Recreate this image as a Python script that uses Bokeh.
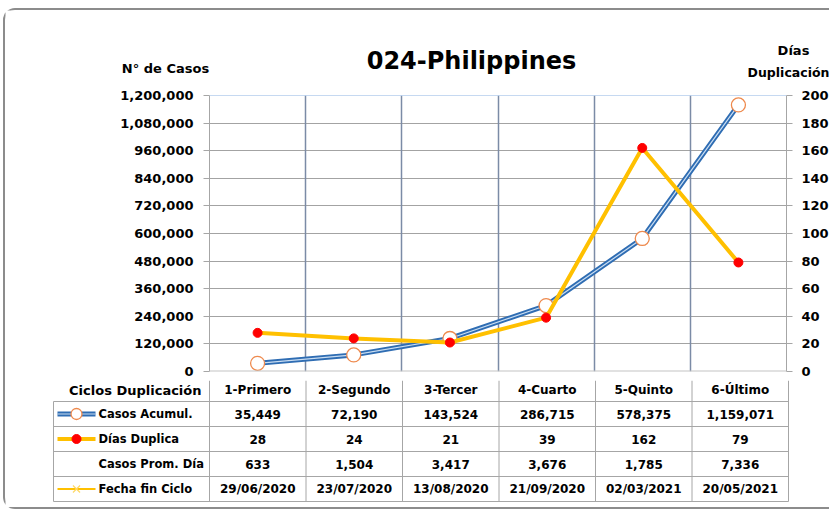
from bokeh.plotting import figure
from bokeh.models import (Range1d, LinearAxis, FixedTicker, NumeralTickFormatter,
                          Span, Grid)
from bokeh.core.properties import value
from bokeh.embed import file_html
from bokeh.resources import INLINE

# ---------------- data ----------------
title_text = "024-Philippines"
categories = ["1-Primero", "2-Segundo", "3-Tercer", "4-Cuarto", "5-Quinto", "6-Último"]
casos_acumul = [35449, 72190, 143524, 286715, 578375, 1159071]
dias_duplica = [28, 24, 21, 39, 162, 79]
casos_prom_dia = [633, 1504, 3417, 3676, 1785, 7336]
fecha_fin = ["29/06/2020", "23/07/2020", "13/08/2020", "21/09/2020", "02/03/2021", "20/05/2021"]
left_ticks = [0, 120000, 240000, 360000, 480000, 600000, 720000, 840000, 960000, 1080000, 1200000]
right_ticks = [0, 20, 40, 60, 80, 100, 120, 140, 160, 180, 200]
row_labels = ["Casos Acumul.", "Días Duplica", "Casos Prom. Día", "Fecha fin Ciclo"]
table_header = "Ciclos Duplicación"
left_title = "N° de Casos"
right_title = ["Días", "Duplicación"]

FONT = "DejaVu Sans"
BLUE = "#2F6DB3"
BLUE_IN = "#C9DDF2"
ORANGE = "#EE8A4E"
GOLD = "#FFC000"
RED = "#FF0000"
BORDER = "2px solid #8C8C8C"

# ---------------- layout constants (page px) ----------------
OX, OY = 5, 10                  # content origin on page (inside the rounded border)
W = 826
FL, FR, FT, FB = 209, 788, 97, 373
HY1 = 90                        # header bottom
CY1 = 382                       # chart bottom / table top
TY1 = 511                       # table bottom
ROW0 = 403                      # first data-row top
RH = 25                         # data-row height
n = len(categories)
unit = (FR - FL) / n
ymax = left_ticks[-1]


def ux(px):
    return (px - FL) / unit


common = dict(output_backend="svg", toolbar_location=None)

# ---------------- header (titles) ----------------
h = figure(width=W, height=HY1 - OY, x_range=Range1d(OX, OX + W), y_range=Range1d(HY1, OY),
           x_axis_type=None, y_axis_type=None, min_border=0, **common,
           styles={"margin-top": "8px", "margin-left": "3px", "border-top": BORDER,
                   "border-left": BORDER, "border-top-left-radius": "12px"})
h.outline_line_color = None
h.grid.visible = False
htxt = dict(text_font=value(FONT), text_font_style="bold", text_baseline="middle",
            text_align="center", text_color="black")
h.text(x=[471], y=[60], text=[title_text], text_font_size="24px", **htxt)
h.text(x=[165], y=[68], text=[left_title], text_font_size="13px", **htxt)
h.text(x=[793], y=[50], text=[right_title[0]], text_font_size="13px", **htxt)
h.text(x=[788], y=[72], text=[right_title[1]], text_font_size="12.5px", **htxt)

# ---------------- chart ----------------
p = figure(width=W, height=CY1 - HY1, x_range=Range1d(0, n), y_range=Range1d(0, ymax),
           x_axis_type=None, **common,
           min_border_left=FL - OX, min_border_right=OX + W - FR,
           min_border_top=FT - HY1, min_border_bottom=CY1 - FB,
           styles={"margin-left": "3px", "border-left": BORDER})
p.outline_line_color = None

xc = [i + 0.5 for i in range(n)]

yax = p.yaxis[0]
yax.ticker = FixedTicker(ticks=left_ticks)
yax.formatter = NumeralTickFormatter(format="0,0")
p.extra_y_ranges = {"dias": Range1d(0, right_ticks[-1])}
rax = LinearAxis(y_range_name="dias", ticker=FixedTicker(ticks=right_ticks))
p.add_layout(rax, "right")
for ax, st in ((yax, 10), (rax, 9)):
    ax.major_label_text_font = FONT
    ax.major_label_text_font_style = "bold"
    ax.major_label_text_font_size = "13px"
    ax.major_label_text_color = "black"
    ax.major_label_standoff = st
    ax.axis_line_color = "#A6A6A6"
    ax.major_tick_line_color = "#A6A6A6"
    ax.major_tick_out = 6
    ax.major_tick_in = 0
    ax.minor_tick_line_color = None

p.ygrid.ticker = FixedTicker(ticks=left_ticks)
p.ygrid.grid_line_color = "#A3A3A3"
p.xgrid.visible = False
p.add_layout(Grid(dimension=0, ticker=FixedTicker(ticks=list(range(1, n))),
                  grid_line_color="#7B8BA6", grid_line_width=1.5))
p.add_layout(Span(location=ymax, dimension="width", line_color="#8EB4E3", line_width=1))
p.add_layout(Span(location=0, dimension="width", line_color="#C4C4C4", line_width=2))

# Casos acumulados (double blue line)
p.line(xc, casos_acumul, line_width=5, line_color=BLUE)
p.line(xc, casos_acumul, line_width=1.2, line_color=BLUE_IN)
p.scatter(xc, casos_acumul, size=14, fill_color="white", line_color=ORANGE, line_width=1.3)
# Días duplicación
p.line(xc, dias_duplica, y_range_name="dias", line_width=4, line_color=GOLD)
p.scatter(xc, dias_duplica, y_range_name="dias", size=9, fill_color=RED, line_color=RED)

# ---------------- data table ----------------
t = figure(width=W, height=TY1 - CY1, x_range=Range1d(ux(OX), ux(OX + W)), y_range=Range1d(TY1, CY1),
           x_axis_type=None, y_axis_type=None, min_border=0, **common,
           styles={"margin-left": "3px", "border-left": BORDER, "border-bottom": BORDER,
                   "border-bottom-left-radius": "12px"})
t.outline_line_color = None
t.grid.visible = False
nrows = len(row_labels)
GRID = "#A6A6A6"
xl = ux(53)
ybot = ROW0 + nrows * RH
hy = [ROW0 + k * RH for k in range(nrows + 1)]
t.segment(x0=[xl] * len(hy), y0=hy, x1=[n] * len(hy), y1=hy, line_color=GRID, line_width=1)
vx = list(range(n + 1))
t.segment(x0=vx, y0=[CY1] * len(vx), x1=vx, y1=[ybot] * len(vx), line_color=GRID, line_width=1)
t.segment(x0=[xl], y0=[ROW0], x1=[xl], y1=[ybot], line_color=GRID, line_width=1)

ycat = (CY1 + ROW0) / 2 - 1
yrow = [ROW0 + (k + 0.5) * RH for k in range(nrows)]
txt = dict(text_font=value(FONT), text_font_style="bold", text_baseline="middle", text_color="black")
t.text(x=xc, y=[ycat] * n, text=categories, text_align="center", text_font_size="12px", **txt)
t.text(x=[ux(201)], y=[ycat], text=[table_header], text_align="right", text_font_size="13px", **txt)
rows = [[f"{v:,}" for v in casos_acumul], [f"{v:,}" for v in dias_duplica],
        [f"{v:,}" for v in casos_prom_dia], fecha_fin]
for k, r in enumerate(rows):
    t.text(x=xc, y=[yrow[k]] * n, text=r, text_align="center", text_font_size="12px", **txt)
t.text(x=[ux(98)] * nrows, y=yrow, text=row_labels,
       text_align="left", text_font_size="11.5px", **txt)

# legend keys
lx = [ux(57), ux(95)]
t.line(lx, [yrow[0]] * 2, line_width=5, line_color=BLUE)
t.line(lx, [yrow[0]] * 2, line_width=1.2, line_color=BLUE_IN)
t.scatter([ux(76)], [yrow[0]], size=11, fill_color="white", line_color=ORANGE, line_width=1.3)
t.line(lx, [yrow[1]] * 2, line_width=4, line_color=GOLD)
t.scatter([ux(76)], [yrow[1]], size=9, fill_color=RED, line_color=RED)
t.line(lx, [yrow[3]] * 2, line_width=2, line_color=GOLD)
t.scatter([ux(76)], [yrow[3]], marker="x", size=10, line_color="#FFD966", line_width=1.2)

open("out.html", "w").write(file_html([h, p, t], INLINE))
